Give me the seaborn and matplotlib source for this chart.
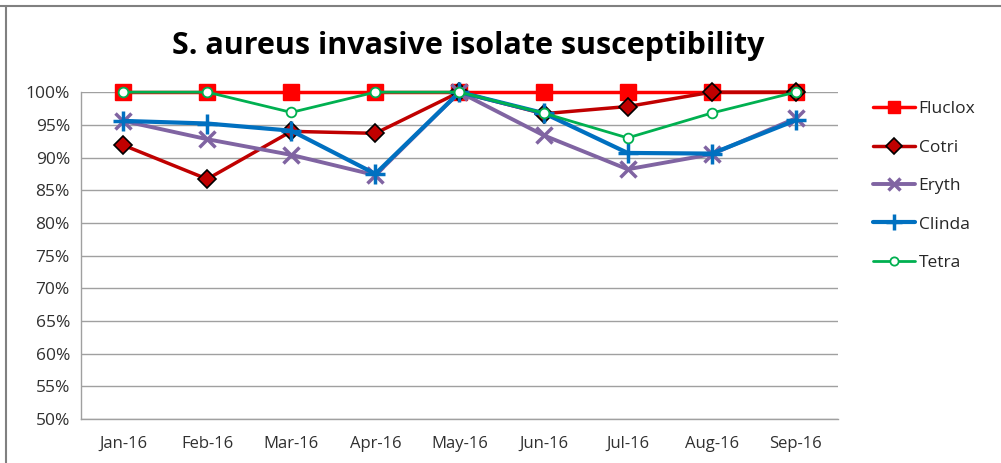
import numpy as np
import pandas as pd
import matplotlib
matplotlib.use('Agg')
import matplotlib.pyplot as plt
from matplotlib.lines import Line2D
import seaborn as sns

# ── data ──────────────────────────────────────
months  = ['Jan-16', 'Feb-16', 'Mar-16', 'Apr-16', 'May-16', 'Jun-16', 'Jul-16', 'Aug-16', 'Sep-16']
fluclox = [100, 100, 100, 100, 100, 100, 100, 100, 100]
cotri   = [91.9, 86.7, 94.0, 93.7, 100, 96.7, 97.8, 100, 100]
eryth   = [95.6, 92.8, 90.4, 87.3, 100, 93.4, 88.2, 90.5, 96.0]
clinda  = [95.6, 95.2, 94.1, 87.5, 100, 96.8, 90.7, 90.6, 95.7]
tetra   = [100, 100, 96.9, 100, 100, 96.8, 93.0, 96.8, 100]

series = {'Fluclox': fluclox, 'Cotri': cotri, 'Eryth': eryth, 'Clinda': clinda, 'Tetra': tetra}

rows = []
for name, vals in series.items():
    for i, v in enumerate(vals):
        rows.append([name, i, v])
df = pd.DataFrame(rows, columns=['Drug', 'idx', 'Pct'])

# ── styles (Excel-like) ───────────────────────
styles = {
    'Fluclox': dict(color='#FF0000', marker='s', ms=11, mfc='#FF0000', mec='#FF0000', mew=1, lw=2.5),
    'Cotri':   dict(color='#C00000', marker='D', ms=9,  mfc='#C00000', mec='black',   mew=1.2, lw=2.5),
    'Eryth':   dict(color='#8064A2', marker='x', ms=11, mfc='#8064A2', mec='#8064A2', mew=2.5, lw=2.8),
    'Clinda':  dict(color='#0070C0', marker='+', ms=14, mfc='#0070C0', mec='#0070C0', mew=2.5, lw=3),
    'Tetra':   dict(color='#00B050', marker='o', ms=7,  mfc='white',   mec='#00B050', mew=1.3, lw=2),
}

sns.set_style('white')
plt.rcParams['font.family'] = ['Open Sans', 'DejaVu Sans']

fig = plt.figure(figsize=(10.01, 4.63), dpi=100)
ax = fig.add_axes([0.081, 0.095, 0.756, 0.706])

for name in series:
    st = styles[name]
    sns.lineplot(data=df[df['Drug'] == name], x='idx', y='Pct', ax=ax,
                 color=st['color'], linewidth=st['lw'], marker=st['marker'],
                 markersize=st['ms'], markerfacecolor=st['mfc'],
                 markeredgecolor=st['mec'], markeredgewidth=st['mew'],
                 legend=False, zorder=3, clip_on=False)

ax.set_xlim(-0.5, len(months) - 0.5)
ax.set_ylim(50, 100)
ax.set_yticks(np.arange(50, 101, 5))
ax.set_yticklabels([f'{v}%' for v in range(50, 101, 5)], fontsize=12.5, color='#303030')
ax.set_xticks(range(len(months)))
ax.set_xticklabels(months, fontsize=12, color='#303030')
ax.set_xticks(np.arange(-0.5, len(months), 1), minor=True)
ax.tick_params(axis='x', which='major', length=0, pad=12)
ax.tick_params(axis='x', which='minor', length=6, color='#A0A0A0', width=1)
ax.tick_params(axis='y', length=5, color='#A0A0A0', direction='out', pad=3)
ax.set_xlabel('')
ax.set_ylabel('')
ax.yaxis.grid(True, color='#A0A0A0', linewidth=1)
ax.set_axisbelow(True)
for s in ['top', 'right']:
    ax.spines[s].set_visible(False)
for s in ['left', 'bottom']:
    ax.spines[s].set_color('#A0A0A0')
    ax.spines[s].set_linewidth(1)

# title
fig.text(0.468, 0.90, 'S. aureus invasive isolate susceptibility', ha='center', va='center',
         fontsize=22, fontweight='bold', color='black')

# legend
handles = []
for name in series:
    st = styles[name]
    handles.append(Line2D([0], [0], color=st['color'], lw=st['lw'], marker=st['marker'],
                          ms=st['ms'] * 0.85, mfc=st['mfc'], mec=st['mec'], mew=st['mew']))
fig.legend(handles, list(series.keys()), loc='upper left', bbox_to_anchor=(0.857, 0.815),
           frameon=False, fontsize=12.5, handlelength=2.4, handletextpad=0.2,
           labelspacing=1.28)

# outer frame lines
fig.add_artist(Line2D([0.0, 1.0], [1 - 6 / 463, 1 - 6 / 463], color='#808080', lw=1.5))
fig.add_artist(Line2D([6 / 1001, 6 / 1001], [0, 1 - 6 / 463], color='#808080', lw=1.5))

plt.savefig('out.png', dpi=100)
plt.close()
